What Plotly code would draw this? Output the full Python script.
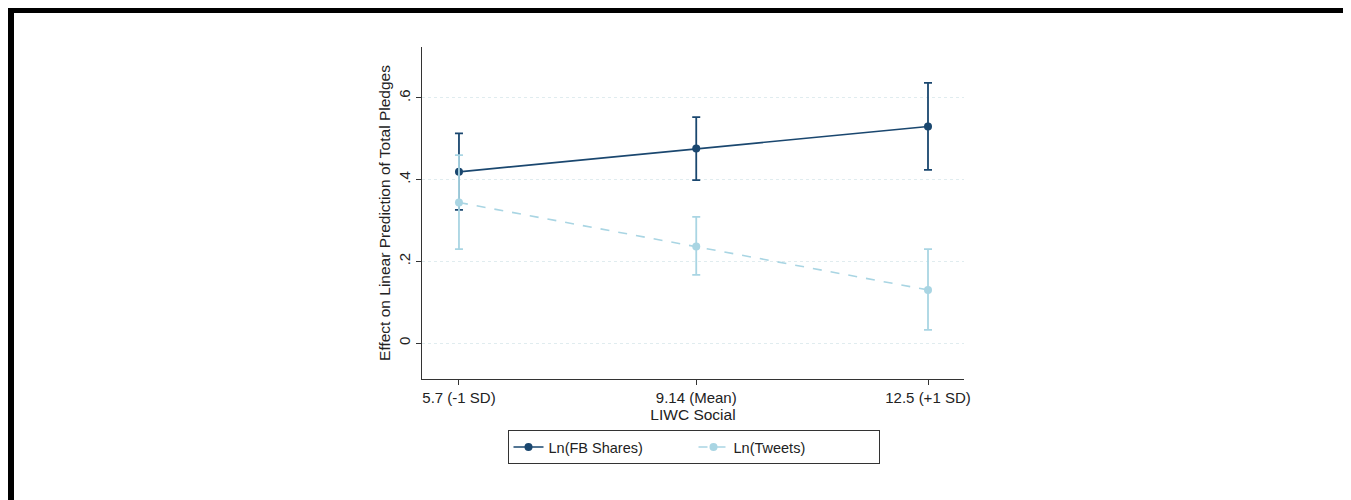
import plotly.graph_objects as go

# ---- data ----
x_vals = [5.7, 9.14, 12.5]
x_labels = ["5.7 (-1 SD)", "9.14 (Mean)", "12.5 (+1 SD)"]

fb_est = [0.419, 0.476, 0.530]
fb_hi = [0.513, 0.553, 0.637]
fb_lo = [0.326, 0.399, 0.424]

tw_est = [0.344, 0.236, 0.130]
tw_hi = [0.460, 0.309, 0.230]
tw_lo = [0.230, 0.167, 0.032]

y_ticks = [0, 0.2, 0.4, 0.6]
y_ticklabels = ["0", ".2", ".4", ".6"]

NAVY = "#1a476f"
LTBLUE = "#a9d5e3"
FONT = "Liberation Sans, Arial, sans-serif"
FS = 14.5
FS_TITLE = 15.5

OFF = 8  # page body margin
W, H = 1351 - OFF, 500 - OFF
L, R, T, B = 422 - OFF, 964 - OFF, 47 - OFF, 379 - OFF  # plot area in figure px


def px_x(p):  # page px -> paper
    return (p - OFF - L) / (R - L)


def px_y(p):
    return (B - (p - OFF)) / (B - T)


fig = go.Figure()

fig.add_trace(go.Scatter(
    x=x_vals, y=fb_est, name="Ln(FB Shares)", mode="lines+markers",
    line=dict(color=NAVY, width=1.6),
    marker=dict(color=NAVY, size=8),
    error_y=dict(type="data", symmetric=False,
                 array=[h - e for h, e in zip(fb_hi, fb_est)],
                 arrayminus=[e - l for e, l in zip(fb_est, fb_lo)],
                 color=NAVY, thickness=1.8, width=4),
))
fig.add_trace(go.Scatter(
    x=x_vals, y=tw_est, name="Ln(Tweets)", mode="lines+markers",
    line=dict(color=LTBLUE, width=1.6, dash="dash"),
    marker=dict(color=LTBLUE, size=8),
    error_y=dict(type="data", symmetric=False,
                 array=[h - e for h, e in zip(tw_hi, tw_est)],
                 arrayminus=[e - l for e, l in zip(tw_est, tw_lo)],
                 color=LTBLUE, thickness=1.8, width=4),
))

# outer frame (open at bottom)
frame = "#000000"
fig.add_shape(type="line", xref="paper", yref="paper",
              x0=px_x(8), x1=px_x(1349), y0=px_y(10), y1=px_y(10),
              line=dict(color=frame, width=6))
fig.add_shape(type="line", xref="paper", yref="paper",
              x0=px_x(11), x1=px_x(11), y0=px_y(7), y1=px_y(520),
              line=dict(color=frame, width=6))
fig.add_shape(type="line", xref="paper", yref="paper",
              x0=px_x(1347), x1=px_x(1347), y0=px_y(7), y1=px_y(520),
              line=dict(color=frame, width=4))

fig.update_layout(
    width=W, height=H,
    margin=dict(l=L, r=W - R, t=T, b=H - B, pad=0),
    paper_bgcolor="white", plot_bgcolor="white",
    font=dict(family=FONT, size=FS, color="#222222"),
    showlegend=True,
    legend=dict(orientation="h", xanchor="center", yanchor="top",
                x=px_x(693.5), y=px_y(430),
                bordercolor="#333333", borderwidth=1,
                entrywidth=140, entrywidthmode="pixels",
                font=dict(family=FONT, size=FS, color="#222222")),
    xaxis=dict(range=[5.164, 13.022], tickvals=x_vals, ticktext=x_labels,
               showline=True, linecolor="#333333", linewidth=1.3,
               ticks="outside", ticklen=5, tickcolor="#333333",
               tickfont=dict(family=FONT, size=15),
               showgrid=False, zeroline=False,
               title=dict(text="LIWC Social", standoff=1,
                          font=dict(family=FONT, size=FS_TITLE))),
    yaxis=dict(range=[-0.088, 0.7246], tickvals=y_ticks, ticktext=y_ticklabels,
               tickangle=-90,
               showline=True, linecolor="#333333", linewidth=1.3,
               ticks="outside", ticklen=5, tickcolor="#333333",
               tickfont=dict(family=FONT, size=15),
               showgrid=True, gridcolor="#e0ecef", gridwidth=1, griddash="dot",
               zeroline=False,
               title=dict(text="Effect on Linear Prediction of Total Pledges",
                          standoff=1, font=dict(family=FONT, size=FS_TITLE))),
)

fig.write_html("out.html")
